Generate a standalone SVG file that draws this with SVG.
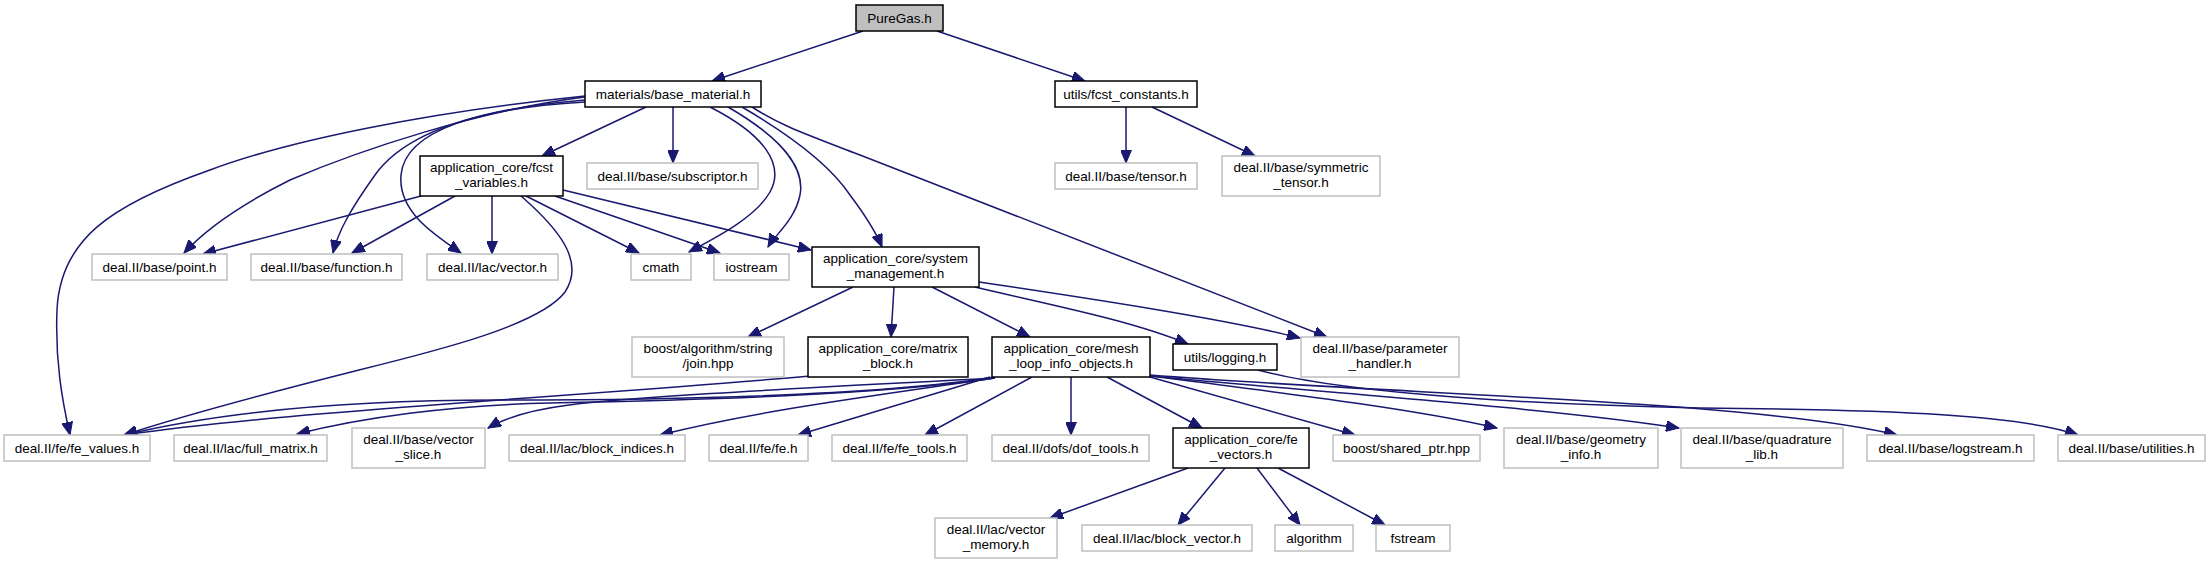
<svg xmlns="http://www.w3.org/2000/svg" width="2211" height="565" viewBox="0 0 2211 565">
<style>
rect{fill:#fff;stroke:#bfbfbf;stroke-width:1.5}
.d rect{stroke:#000}
.r rect{fill:#bfbfbf;stroke:#000}
text{font-family:"Liberation Sans",Arial,sans-serif;font-size:13.5px;text-anchor:middle;fill:#000}
#edges path{fill:none;stroke:#191970;stroke-width:1.5;marker-end:url(#a)}
</style>
<defs>
<marker id="a" markerUnits="userSpaceOnUse" markerWidth="14" markerHeight="11" refX="13" refY="5.5" orient="auto" viewBox="0 0 14 11"><path d="M0,0 L13,5.5 L0,11 z" fill="#191970" stroke="#191970" stroke-width="1"/></marker>
</defs>
<rect x="0" y="0" width="2211" height="565" style="fill:#fff;stroke:none"/>
<g id="edges">
<path d="M863,31 L712,81"/>
<path d="M937,31 L1085,81"/>
<path d="M1126,107 L1126,163"/>
<path d="M1152,107 L1255,156"/>
<path d="M646,107 L542,156"/>
<path d="M673,107 L673,163"/>
<path d="M585,96 C430,112 290,140 210,170 C110,205 60,240 57,310 C55,360 62,400 70,435"/>
<path d="M585,97 C480,110 360,150 290,180 C240,205 205,230 184,253"/>
<path d="M585,100 C460,110 400,140 375,175 C350,210 338,232 333,253"/>
<path d="M585,102 C480,108 405,130 401,175 C398,210 430,232 461,253"/>
<path d="M710,107 C765,135 785,165 770,192 C755,218 715,238 689,252"/>
<path d="M728,107 C785,140 805,170 800,195 C795,220 775,235 768,247"/>
<path d="M742,107 C790,135 830,165 850,195 C865,215 875,230 882,247"/>
<path d="M752,107 C780,125 800,132 860,155 L1327,337"/>
<path d="M421,196 L203,254"/>
<path d="M455,196 L352,253"/>
<path d="M492,196 L492,254"/>
<path d="M526,196 L639,253"/>
<path d="M555,196 L720,253"/>
<path d="M563,190 L811,250"/>
<path d="M521,196 C560,230 585,262 565,292 C540,325 440,350 359,370 C260,395 170,420 124,435"/>
<path d="M853,287 L748,337"/>
<path d="M894,287 L891,337"/>
<path d="M932,287 L1030,337"/>
<path d="M975,287 C1050,305 1130,320 1188,344"/>
<path d="M979,282 C1100,300 1230,320 1300,338"/>
<path d="M810,376 C600,395 300,410 124,435"/>
<path d="M995,377 C880,395 700,400 500,400 C350,400 220,412 124,435"/>
<path d="M995,378 C880,395 700,400 550,403 C450,405 360,418 297,434"/>
<path d="M995,378 C850,386 650,395 569,405 C530,410 505,418 488,428"/>
<path d="M995,378 C880,395 760,410 660,435"/>
<path d="M990,377 L798,435"/>
<path d="M1032,377 L925,435"/>
<path d="M1071,377 L1071,435"/>
<path d="M1107,377 L1202,428"/>
<path d="M1150,377 L1355,435"/>
<path d="M1150,376 C1300,395 1420,410 1497,428"/>
<path d="M1150,376 C1350,395 1550,408 1679,428"/>
<path d="M1150,375 C1400,395 1750,400 1897,435"/>
<path d="M1258,370 C1350,395 1550,405 1700,408 C1900,410 2020,415 2078,435"/>
<path d="M1188,468 L1050,518"/>
<path d="M1225,468 L1178,525"/>
<path d="M1257,468 L1300,525"/>
<path d="M1278,468 L1385,525"/>
</g>
<g id="n1" class="r"><rect x="856" y="5" width="87" height="26"/><text x="899.5" y="22.5">PureGas.h</text></g>
<g id="n2" class="d"><rect x="585" y="81" width="176" height="26"/><text x="673" y="98.5">materials/base_material.h</text></g>
<g id="n3" class="d"><rect x="1055" y="81" width="142" height="26"/><text x="1126" y="98.5">utils/fcst_constants.h</text></g>
<g id="n4" class="d"><rect x="420" y="156" width="143" height="40"/><text x="491.5" y="172">application_core/fcst</text><text x="491.5" y="187">_variables.h</text></g>
<g id="n5"><rect x="587" y="163" width="171" height="26"/><text x="672.5" y="180.5">deal.II/base/subscriptor.h</text></g>
<g id="n6"><rect x="1055" y="163" width="142" height="26"/><text x="1126" y="180.5">deal.II/base/tensor.h</text></g>
<g id="n7"><rect x="1222" y="156" width="158" height="40"/><text x="1301" y="172">deal.II/base/symmetric</text><text x="1301" y="187">_tensor.h</text></g>
<g id="n8"><rect x="92" y="254" width="135" height="26"/><text x="159.5" y="271.5">deal.II/base/point.h</text></g>
<g id="n9"><rect x="251" y="254" width="151" height="26"/><text x="326.5" y="271.5">deal.II/base/function.h</text></g>
<g id="n10"><rect x="427" y="254" width="131" height="26"/><text x="492.5" y="271.5">deal.II/lac/vector.h</text></g>
<g id="n11"><rect x="631" y="254" width="60" height="26"/><text x="661" y="271.5">cmath</text></g>
<g id="n12"><rect x="714" y="254" width="75" height="26"/><text x="751.5" y="271.5">iostream</text></g>
<g id="n13" class="d"><rect x="812" y="247" width="167" height="40"/><text x="895.5" y="263">application_core/system</text><text x="895.5" y="278">_management.h</text></g>
<g id="n14"><rect x="632" y="337" width="152" height="40"/><text x="708" y="353">boost/algorithm/string</text><text x="708" y="368">/join.hpp</text></g>
<g id="n15" class="d"><rect x="808" y="337" width="160" height="40"/><text x="888" y="353">application_core/matrix</text><text x="888" y="368">_block.h</text></g>
<g id="n16" class="d"><rect x="992" y="337" width="158" height="40"/><text x="1071" y="353">application_core/mesh</text><text x="1071" y="368">_loop_info_objects.h</text></g>
<g id="n17" class="d"><rect x="1173" y="344" width="104" height="26"/><text x="1225" y="361.5">utils/logging.h</text></g>
<g id="n18"><rect x="1301" y="337" width="158" height="40"/><text x="1380" y="353">deal.II/base/parameter</text><text x="1380" y="368">_handler.h</text></g>
<g id="n19"><rect x="4" y="435" width="146" height="26"/><text x="77" y="452.5">deal.II/fe/fe_values.h</text></g>
<g id="n20"><rect x="174" y="435" width="153" height="26"/><text x="250.5" y="452.5">deal.II/lac/full_matrix.h</text></g>
<g id="n21"><rect x="352" y="428" width="133" height="40"/><text x="418.5" y="444">deal.II/base/vector</text><text x="418.5" y="459">_slice.h</text></g>
<g id="n22"><rect x="509" y="435" width="176" height="26"/><text x="597" y="452.5">deal.II/lac/block_indices.h</text></g>
<g id="n23"><rect x="709" y="435" width="99" height="26"/><text x="758.5" y="452.5">deal.II/fe/fe.h</text></g>
<g id="n24"><rect x="832" y="435" width="135" height="26"/><text x="899.5" y="452.5">deal.II/fe/fe_tools.h</text></g>
<g id="n25"><rect x="992" y="435" width="157" height="26"/><text x="1070.5" y="452.5">deal.II/dofs/dof_tools.h</text></g>
<g id="n26" class="d"><rect x="1173" y="428" width="136" height="40"/><text x="1241" y="444">application_core/fe</text><text x="1241" y="459">_vectors.h</text></g>
<g id="n27"><rect x="1333" y="435" width="147" height="26"/><text x="1406.5" y="452.5">boost/shared_ptr.hpp</text></g>
<g id="n28"><rect x="1504" y="428" width="154" height="40"/><text x="1581" y="444">deal.II/base/geometry</text><text x="1581" y="459">_info.h</text></g>
<g id="n29"><rect x="1681" y="428" width="162" height="40"/><text x="1762" y="444">deal.II/base/quadrature</text><text x="1762" y="459">_lib.h</text></g>
<g id="n30"><rect x="1867" y="435" width="167" height="26"/><text x="1950.5" y="452.5">deal.II/base/logstream.h</text></g>
<g id="n31"><rect x="2058" y="435" width="147" height="26"/><text x="2131.5" y="452.5">deal.II/base/utilities.h</text></g>
<g id="n32"><rect x="935" y="518" width="122" height="40"/><text x="996" y="534">deal.II/lac/vector</text><text x="996" y="549">_memory.h</text></g>
<g id="n33"><rect x="1082" y="525" width="170" height="26"/><text x="1167" y="542.5">deal.II/lac/block_vector.h</text></g>
<g id="n34"><rect x="1275" y="525" width="78" height="26"/><text x="1314" y="542.5">algorithm</text></g>
<g id="n35"><rect x="1376" y="525" width="74" height="26"/><text x="1413" y="542.5">fstream</text></g>
</svg>
